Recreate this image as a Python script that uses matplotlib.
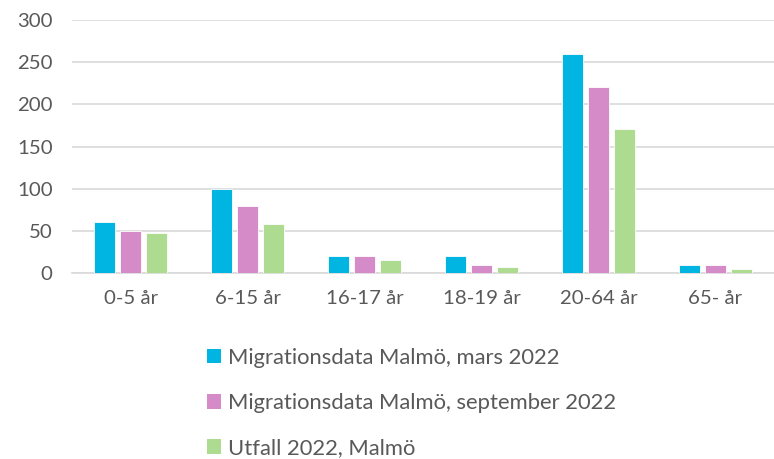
import matplotlib.pyplot as plt
import numpy as np
from matplotlib.patches import Patch

kategorier = ["0-5 år", "6-15 år", "16-17 år", "18-19 år", "20-64 år", "65- år"]
mars_2022 = [60, 100, 20, 20, 260, 10]
september_2022 = [50, 80, 20, 10, 220, 10]
utfall_2022 = [47, 58, 16, 7, 171, 5]

serier = [
    ("Migrationsdata Malmö, mars 2022", mars_2022, "#00b5e2"),
    ("Migrationsdata Malmö, september 2022", september_2022, "#d58bc7"),
    ("Utfall 2022, Malmö", utfall_2022, "#addb8f"),
]

plt.rcParams['font.family'] = ['Lato', 'DejaVu Sans']
grå = "#595959"

fig = plt.figure(figsize=(7.74, 4.59), dpi=100)
ax = fig.add_axes([72 / 774, 1 - 273 / 459, 702 / 774, 253 / 459])

x = np.arange(len(kategorier))
bredd = 0.18
steg = 0.225
for i, (namn, varden, farg) in enumerate(serier):
    ax.bar(x + (i - 1) * steg, varden, width=bredd, color=farg,
           edgecolor="white", linewidth=0.6, zorder=3)

ax.set_xlim(-0.5, len(kategorier) - 0.5)
ax.set_ylim(0, 300)
ax.set_yticks(range(0, 301, 50))
ax.set_xticks(x)
ax.set_xticklabels(kategorier)
ax.tick_params(axis="both", length=0, labelsize=14.7, colors=grå)
ax.tick_params(axis="x", pad=12)
ax.tick_params(axis="y", pad=14)
ax.grid(axis="y", color="#d9d9d9", linewidth=1.2, zorder=0)
for s in ["top", "right", "left"]:
    ax.spines[s].set_visible(False)
ax.spines["bottom"].set_color("#d9d9d9")
ax.spines["bottom"].set_linewidth(1.2)

handtag = [Patch(facecolor=f, label=n) for n, _, f in serier]
fig.legend(handles=handtag, loc="upper left", bbox_to_anchor=(187 / 774, 1 - 328 / 459),
           frameon=False, fontsize=15.8, labelcolor=grå, handlelength=0.65,
           handleheight=0.65, handletextpad=0.3, labelspacing=1.15)

fig.savefig("out.png", dpi=100)
